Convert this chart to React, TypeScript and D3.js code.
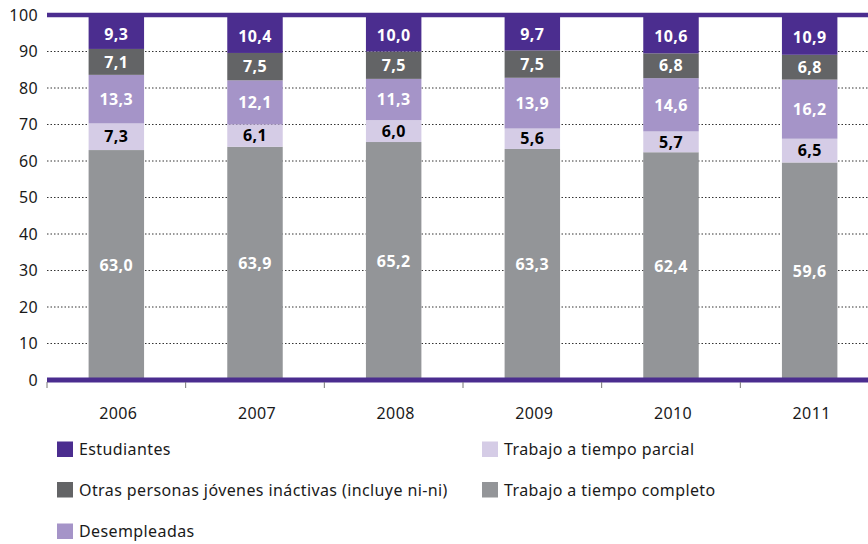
import React from "react";
import * as d3 from "d3";

const years = ["2006", "2007", "2008", "2009", "2010", "2011"];
const completo = [63.0, 63.9, 65.2, 63.3, 62.4, 59.6];
const parcial = [7.3, 6.1, 6.0, 5.6, 5.7, 6.5];
const desempleadas = [13.3, 12.1, 11.3, 13.9, 14.6, 16.2];
const otras = [7.1, 7.5, 7.5, 7.5, 6.8, 6.8];
const estudiantes = [9.3, 10.4, 10.0, 9.7, 10.6, 10.9];
const yTicks = [0, 10, 20, 30, 40, 50, 60, 70, 80, 90, 100];

const seriesNames = [
  "Trabajo a tiempo completo",
  "Trabajo a tiempo parcial",
  "Desempleadas",
  "Otras personas jóvenes ináctivas (incluye ni-ni)",
  "Estudiantes",
];
const seriesValues = [completo, parcial, desempleadas, otras, estudiantes];
const colors = ["#939598", "#d5cce6", "#a594c8", "#636466", "#4b2d8f"];
const labelColors = ["#ffffff", "#000000", "#ffffff", "#ffffff", "#ffffff"];

const legendOrder = [
  { idx: 4, col: 0, row: 0 },
  { idx: 3, col: 0, row: 1 },
  { idx: 2, col: 0, row: 2 },
  { idx: 1, col: 1, row: 0 },
  { idx: 0, col: 1, row: 1 },
];

const fmt = (v: number) => v.toFixed(1).replace(".", ",");

export default function App() {
  const W = 868;
  const H = 544;
  const x = d3.scaleBand<string>().domain(years).range([47, 879]).paddingInner(0.6).paddingOuter(0.3);
  const band = d3.scaleBand<string>().domain(years).range([47, 879]);
  const y = d3.scaleLinear().domain([0, 100]).range([380, 15]);

  const rows = years.map((yr, i) => {
    const r: any = { year: yr };
    seriesValues.forEach((s, k) => (r["s" + k] = s[i]));
    return r;
  });
  const stack = d3.stack<any>().keys(seriesValues.map((_, k) => "s" + k));
  const layers = stack(rows);

  const font = "'Noto Sans', 'DejaVu Sans', sans-serif";
  const legendX = [57, 482];
  const legendY = [441.5, 482, 523.5];
  const ls = "0.4px";

  return (
    <svg width={W} height={H} style={{ position: "absolute", left: 0, top: 0 }} fontFamily={font}>
      <rect width={W} height={H} fill="#ffffff" />
      {yTicks
        .filter((t) => t !== 0 && t !== 100)
        .map((t) => (
          <line key={t} x1={47} x2={W} y1={y(t)} y2={y(t)} stroke="#333" strokeWidth={1} strokeDasharray="1.5,2" />
        ))}
      {yTicks.map((t) => (
        <text key={t} x={38} y={y(t)} dy="0.35em" textAnchor="end" fontSize={16} letterSpacing={ls} fill="#1a1a1a">
          {t}
        </text>
      ))}
      {layers.map((layer, k) =>
        layer.map((d, i) => (
          <rect
            key={k + "-" + i}
            x={x(years[i])}
            width={x.bandwidth()}
            y={y(Math.min(d[1], 100))}
            height={y(d[0]) - y(Math.min(d[1], 100))}
            fill={colors[k]}
          />
        ))
      )}
      {layers.map((layer, k) =>
        layer.map((d, i) => (
          <text
            key={"l" + k + "-" + i}
            x={(x(years[i]) as number) + x.bandwidth() / 2}
            y={y((d[0] + Math.min(d[1], 100)) / 2) + (k === 4 ? 2 : 0)}
            dy="0.36em"
            textAnchor="middle"
            fontSize={16}
            letterSpacing={ls}
            fontWeight="bold"
            fill={labelColors[k]}
          >
            {fmt(seriesValues[k][i])}
          </text>
        ))
      )}
      <line x1={47} x2={W} y1={y(100)} y2={y(100)} stroke="#4b2d8f" strokeWidth={4.5} />
      <line x1={47} x2={W} y1={y(0)} y2={y(0)} stroke="#4b2d8f" strokeWidth={5} />
      {years.map((yr) => (
        <line key={"t" + yr} x1={band(yr)} x2={band(yr)} y1={382} y2={388} stroke="#777" strokeWidth={1} />
      ))}
      {years.map((yr) => (
        <text key={"x" + yr} x={(band(yr) as number) + band.bandwidth() / 2 + 2} y={413} dy="0.35em" textAnchor="middle" fontSize={16} letterSpacing={ls} fill="#1a1a1a">
          {yr}
        </text>
      ))}
      {legendOrder.map((l) => (
        <g key={"lg" + l.idx} transform={`translate(${legendX[l.col]},${legendY[l.row]})`}>
          <rect x={0} y={0} width={16} height={15.5} fill={colors[l.idx]} />
          <text x={22} y={8} dy="0.35em" fontSize={16} letterSpacing={ls} fill="#1a1a1a">
            {seriesNames[l.idx]}
          </text>
        </g>
      ))}
    </svg>
  );
}
